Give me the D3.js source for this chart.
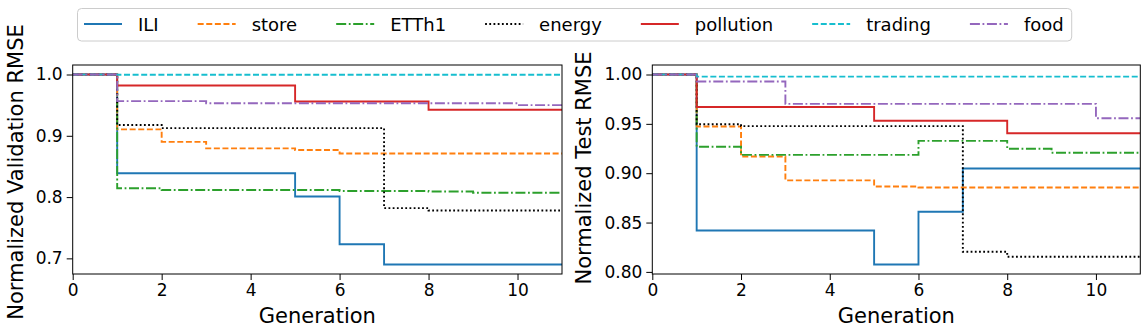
<!DOCTYPE html>
<html><head><meta charset="utf-8">
<script src="https://cdn.jsdelivr.net/npm/d3@7"></script>
<style>
body{margin:0;background:#fff}
svg text{font-family:"DejaVu Sans",sans-serif;fill:#000}
</style>
</head><body>
<svg id="c" width="1148" height="334"></svg>
<script>
// ---------- data ----------
const generations = [0,1,2,3,4,5,6,7,8,9,10,11];
const seriesNames = ["ILI","store","ETTh1","energy","pollution","trading","food"];
const xTicks = [0,2,4,6,8,10];
const leftYTicks = [0.7,0.8,0.9,1.0];
const rightYTicks = [0.80,0.85,0.90,0.95,1.00];
const leftYLabel = "Normalized Validation RMSE";
const rightYLabel = "Normalized Test RMSE";
const xLabel = "Generation";

// validation (left)
const valILI       = [1, 0.839, 0.839, 0.839, 0.839, 0.801, 0.723, 0.690, 0.690, 0.690, 0.690, 0.690];
const valStore     = [1, 0.9105, 0.890, 0.8795, 0.8795, 0.8768, 0.871, 0.871, 0.871, 0.871, 0.871, 0.871];
const valETTh1     = [1, 0.8145, 0.8115, 0.8115, 0.8115, 0.8115, 0.810, 0.810, 0.809, 0.807, 0.807, 0.807];
const valEnergy    = [1, 0.9175, 0.9125, 0.9125, 0.9125, 0.9125, 0.9125, 0.782, 0.778, 0.778, 0.778, 0.778];
const valPollution = [1, 0.982, 0.982, 0.982, 0.982, 0.956, 0.956, 0.956, 0.9425, 0.9425, 0.9425, 0.9425];
const valTrading   = [1, 0.9995, 0.9995, 0.9995, 0.9995, 0.9995, 0.9995, 0.9995, 0.9995, 0.9995, 0.9995, 0.9995];
const valFood      = [1, 0.9566, 0.9566, 0.953, 0.953, 0.953, 0.953, 0.953, 0.953, 0.953, 0.950, 0.950];

// test (right)
const testILI       = [1, 0.842, 0.842, 0.842, 0.842, 0.8075, 0.861, 0.9048, 0.9048, 0.9048, 0.9048, 0.9048];
const testStore     = [1, 0.9473, 0.9169, 0.8927, 0.8927, 0.8866, 0.8855, 0.8855, 0.8855, 0.8855, 0.8855, 0.8855];
const testETTh1     = [1, 0.9268, 0.9186, 0.9186, 0.9186, 0.9186, 0.9328, 0.9328, 0.9247, 0.9207, 0.9207, 0.9207];
const testEnergy    = [1, 0.9496, 0.9477, 0.9477, 0.9477, 0.9477, 0.9477, 0.8204, 0.8153, 0.8153, 0.8153, 0.8153];
const testPollution = [1, 0.9670, 0.9670, 0.9670, 0.9670, 0.9531, 0.9531, 0.9531, 0.9405, 0.9405, 0.9405, 0.9405];
const testTrading   = [1, 0.9978, 0.9978, 0.9978, 0.9978, 0.9978, 0.9978, 0.9978, 0.9978, 0.9978, 0.9978, 0.9978];
const testFood      = [1, 0.9929, 0.9929, 0.9702, 0.9702, 0.9702, 0.9702, 0.9702, 0.9702, 0.9702, 0.9556, 0.9556];

const valSeries  = [valILI, valStore, valETTh1, valEnergy, valPollution, valTrading, valFood];
const testSeries = [testILI, testStore, testETTh1, testEnergy, testPollution, testTrading, testFood];

// ---------- styles ----------
const colors = ["#1f77b4","#ff7f0e","#2ca02c","#000000","#d62728","#17becf","#9467bd"];
const dashes = [null, "6,2.6", "10,2.6,1.8,2.6", "1.8,2.4", null, "6,2.6", "10,2.6,1.8,2.6"];
const LW = 1.9;

const svg = d3.select("#c");

function panel(x0, x1, y0, y1, series, yTicks, yFmt, yLabel, yLabelX, yLabelY) {
  const g = svg.append("g");
  const all = series.flat();
  const lo = d3.min(all), hi = d3.max(all), pad = (hi - lo) * 0.05;
  const x = d3.scaleLinear().domain([0, 11]).range([x0, x1]);
  const y = d3.scaleLinear().domain([lo - pad, hi + pad]).range([y1, y0]);

  const clipId = "clip" + Math.round(x0);
  svg.append("clipPath").attr("id", clipId).append("rect")
    .attr("x", x0).attr("y", y0).attr("width", x1 - x0).attr("height", y1 - y0);

  const line = d3.line().x((d, i) => x(generations[i])).y(d => y(d)).curve(d3.curveStepAfter);
  const lines = g.append("g").attr("clip-path", `url(#${clipId})`);
  series.forEach((s, i) => {
    lines.append("path").datum(s).attr("d", line)
      .attr("fill", "none").attr("stroke", colors[i]).attr("stroke-width", LW)
      .attr("stroke-dasharray", dashes[i]);
  });

  // frame
  g.append("rect").attr("x", x0).attr("y", y0).attr("width", x1 - x0).attr("height", y1 - y0)
    .attr("fill", "none").attr("stroke", "#000").attr("stroke-width", 1);

  const xa = g.append("g").attr("transform", `translate(0,${y1})`)
    .call(d3.axisBottom(x).tickValues(xTicks).tickSize(6).tickPadding(4).tickFormat(d3.format("d")));
  xa.select(".domain").remove();
  xa.selectAll("text").style("font-size", "17px").attr("fill", "#000");
  xa.selectAll("line").attr("stroke", "#000");

  const ya = g.append("g").attr("transform", `translate(${x0},0)`)
    .call(d3.axisLeft(y).tickValues(yTicks).tickSize(6).tickPadding(4).tickFormat(d3.format(yFmt)));
  ya.select(".domain").remove();
  ya.selectAll("text").style("font-size", "17px").attr("fill", "#000");
  ya.selectAll("line").attr("stroke", "#000");

  g.append("text").attr("x", (x0 + x1) / 2).attr("y", 322.5).attr("text-anchor", "middle")
    .style("font-size", "21px").text(xLabel);
  g.append("text").attr("transform", `translate(${yLabelX},${yLabelY}) rotate(-90)`)
    .attr("text-anchor", "middle").style("font-size", "21px").text(yLabel);
}

panel(72.7, 562, 65, 274, valSeries, leftYTicks, ".1f", leftYLabel, 22.7, 172);
panel(652.3, 1140.3, 65, 274, testSeries, rightYTicks, ".2f", rightYLabel, 590.7, 168);

// ---------- legend ----------
const leg = svg.append("g");
const box = leg.append("rect").attr("x", 77.5).attr("y", 8.5).attr("height", 32.5)
  .attr("rx", 4).attr("fill", "#fff").attr("stroke", "#cccccc").attr("stroke-width", 1);
let lx = 84;
const ly = 24;
seriesNames.forEach((name, i) => {
  leg.append("line").attr("x1", lx).attr("x2", lx + 38).attr("y1", ly).attr("y2", ly)
    .attr("stroke", colors[i]).attr("stroke-width", LW).attr("stroke-dasharray", dashes[i]);
  const t = leg.append("text").attr("x", lx + 54).attr("y", ly + 6.5)
    .style("font-size", "18px").text(name);
  const w = t.node().getComputedTextLength();
  lx = lx + 54 + w + 39;
});
box.attr("width", lx - 39 + 8 - 77.5);
</script>
</body></html>
